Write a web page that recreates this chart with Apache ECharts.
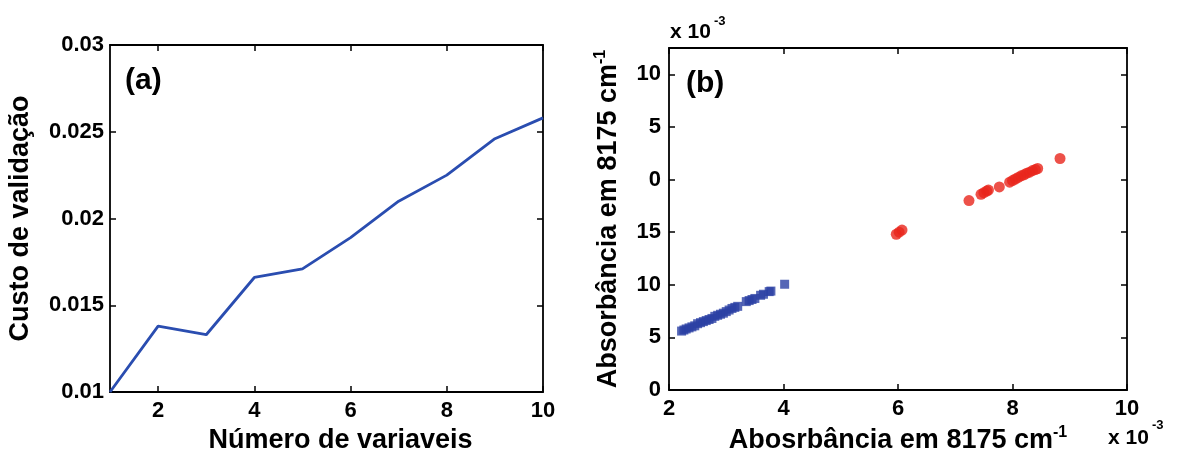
<!DOCTYPE html>
<html>
<head>
<meta charset="utf-8">
<script src="https://cdn.jsdelivr.net/npm/echarts@6/dist/echarts.min.js"></script>
<style>
  html, body { margin: 0; padding: 0; background: #fff; }
  #chart { width: 1185px; height: 454px; }
</style>
</head>
<body>
<div id="chart"></div>
<script>
  // (a) custo de validação x número de variaveis
  var nVars = [1, 2, 3, 4, 5, 6, 7, 8, 9, 10]
  var custo = [0.0100, 0.0138, 0.0133, 0.0166, 0.0171, 0.0189, 0.0210, 0.0225, 0.0246, 0.0258]
  var xTicksA = [2, 4, 6, 8, 10]

  // (b) absorbâncias (x 10^-3)
  var blueX = [2.22, 2.26, 2.30, 2.35, 2.40, 2.45, 2.50, 2.55, 2.60, 2.65, 2.70, 2.75, 2.80, 2.85, 2.90, 2.95, 3.00, 3.05, 3.10, 3.15, 3.20, 3.35, 3.40, 3.45, 3.50, 3.60, 3.65, 3.75, 3.78, 4.02]
  var blueY = [5.60, 5.70, 5.80, 5.90, 6.00, 6.10, 6.30, 6.40, 6.50, 6.60, 6.70, 6.80, 7.00, 7.10, 7.20, 7.30, 7.45, 7.60, 7.75, 7.85, 7.95, 8.40, 8.50, 8.60, 8.70, 9.00, 9.10, 9.35, 9.40, 10.05]
  var redX = [5.97, 6.02, 6.07, 7.24, 7.45, 7.50, 7.55, 7.58, 7.77, 7.95, 8.00, 8.05, 8.10, 8.15, 8.20, 8.25, 8.30, 8.35, 8.40, 8.44, 8.83]
  var redY = [14.8, 15.0, 15.2, 18.0, 18.6, 18.75, 18.9, 19.0, 19.3, 19.75, 19.9, 20.05, 20.2, 20.35, 20.45, 20.6, 20.7, 20.85, 20.95, 21.05, 22.0]
  var yTicksB = [0, 5, 10, 15, 20, 25, 30]
  var yLabelsB = ['0', '5', '10', '15', '0', '5', '10']

  var FONT = 'Liberation Sans'
  var tickStyle = { show: true, inside: true, length: 6, lineStyle: { color: '#000', width: 1.5 } }
  var lineStyle = { show: true, onZero: false, lineStyle: { color: '#000', width: 1.8 } }
  var labelStyle = { fontFamily: FONT, fontWeight: 'bold', fontSize: 22, color: '#000' }
  var nameStyle = { fontFamily: FONT, fontWeight: 'bold', fontSize: 27, color: '#000' }
  var nameRich = {
    m: { fontFamily: FONT, fontWeight: 'bold', fontSize: 27, color: '#000', lineHeight: 32 },
    s: { fontFamily: FONT, fontWeight: 'bold', fontSize: 16, color: '#000', lineHeight: 16, verticalAlign: 'top' }
  }

  function zip (xs, ys) {
    return xs.map(function (x, i) { return [x, ys[i]] })
  }

  var option = {
    backgroundColor: '#fff',
    animation: false,
    grid: [
      { left: 110, top: 45, width: 433, height: 347, outerBoundsMode: 'none' },
      { left: 669, top: 48, width: 458, height: 342, outerBoundsMode: 'none' }
    ],
    xAxis: [
      {
        gridIndex: 0, type: 'value', min: 1, max: 10, position: 'bottom',
        name: 'Número de variaveis', nameLocation: 'middle', nameGap: 34,
        nameTextStyle: Object.assign({ padding: [0, 0, 0, 28] }, nameStyle),
        axisLine: lineStyle, splitLine: { show: false },
        axisTick: Object.assign({ customValues: xTicksA }, tickStyle),
        axisLabel: Object.assign({ customValues: xTicksA, margin: 8 }, labelStyle)
      },
      {
        gridIndex: 0, type: 'value', min: 1, max: 10, position: 'top',
        axisLine: lineStyle, splitLine: { show: false },
        axisTick: Object.assign({ customValues: xTicksA }, tickStyle),
        axisLabel: { show: false }
      },
      {
        gridIndex: 1, type: 'value', min: 2, max: 10, interval: 2, position: 'bottom',
        name: '{m|Abosrbância em 8175 cm}{s|-1}', nameLocation: 'middle', nameGap: 32,
        nameTextStyle: { rich: nameRich },
        axisLine: lineStyle, splitLine: { show: false },
        axisTick: tickStyle,
        axisLabel: Object.assign({ margin: 8 }, labelStyle)
      },
      {
        gridIndex: 1, type: 'value', min: 2, max: 10, interval: 2, position: 'top',
        axisLine: lineStyle, splitLine: { show: false },
        axisTick: tickStyle, axisLabel: { show: false }
      }
    ],
    yAxis: [
      {
        gridIndex: 0, type: 'value', min: 0.01, max: 0.03, interval: 0.005, position: 'left',
        name: 'Custo de validação', nameLocation: 'middle', nameGap: 76,
        nameTextStyle: nameStyle,
        axisLine: lineStyle, splitLine: { show: false },
        axisTick: tickStyle,
        axisLabel: Object.assign({ margin: 6, formatter: function (v) { return String(+v.toFixed(3)) } }, labelStyle)
      },
      {
        gridIndex: 0, type: 'value', min: 0.01, max: 0.03, interval: 0.005, position: 'right',
        axisLine: lineStyle, splitLine: { show: false },
        axisTick: tickStyle, axisLabel: { show: false }
      },
      {
        gridIndex: 1, type: 'value', min: 0, max: 32.5, position: 'left',
        name: '{m|Absorbância em 8175 cm}{s|-1}', nameLocation: 'middle', nameGap: 44,
        nameTextStyle: { rich: nameRich },
        axisLine: lineStyle, splitLine: { show: false },
        axisTick: Object.assign({ customValues: yTicksB }, tickStyle),
        axisLabel: Object.assign({
          customValues: yTicksB, margin: 8,
          formatter: function (v) { return yLabelsB[yTicksB.indexOf(v)] }
        }, labelStyle)
      },
      {
        gridIndex: 1, type: 'value', min: 0, max: 32.5, position: 'right',
        axisLine: lineStyle, splitLine: { show: false },
        axisTick: Object.assign({ customValues: yTicksB }, tickStyle),
        axisLabel: { show: false }
      }
    ],
    series: [
      {
        type: 'line', xAxisIndex: 0, yAxisIndex: 0,
        data: zip(nVars, custo), showSymbol: false,
        lineStyle: { color: '#2a4db0', width: 2.8 }
      },
      {
        type: 'scatter', xAxisIndex: 2, yAxisIndex: 2,
        data: zip(blueX, blueY), symbol: 'rect', symbolSize: 9,
        itemStyle: { color: '#2b40a4' }
      },
      {
        type: 'scatter', xAxisIndex: 2, yAxisIndex: 2,
        data: zip(redX, redY), symbol: 'circle', symbolSize: 11,
        itemStyle: { color: '#e8261c' }
      }
    ],
    graphic: [
      { type: 'text', left: 125, top: 66, style: { text: '(a)', font: 'bold 30px "Liberation Sans"', fill: '#000' } },
      { type: 'text', left: 686, top: 69, style: { text: '(b)', font: 'bold 30px "Liberation Sans"', fill: '#000' } },
      { type: 'text', left: 670, top: 22, style: { text: 'x 10', font: 'bold 21px "Liberation Sans"', fill: '#000' } },
      { type: 'text', left: 714, top: 15, style: { text: '-3', font: 'bold 13px "Liberation Sans"', fill: '#000' } },
      { type: 'text', left: 1108, top: 428, style: { text: 'x 10', font: 'bold 21px "Liberation Sans"', fill: '#000' } },
      { type: 'text', left: 1152, top: 419, style: { text: '-3', font: 'bold 13px "Liberation Sans"', fill: '#000' } }
    ]
  }

  var chart = echarts.init(document.getElementById('chart'))
  chart.setOption(option)
  window.addEventListener('resize', function () {
    chart.resize()
  })
</script>
</body>
</html>
